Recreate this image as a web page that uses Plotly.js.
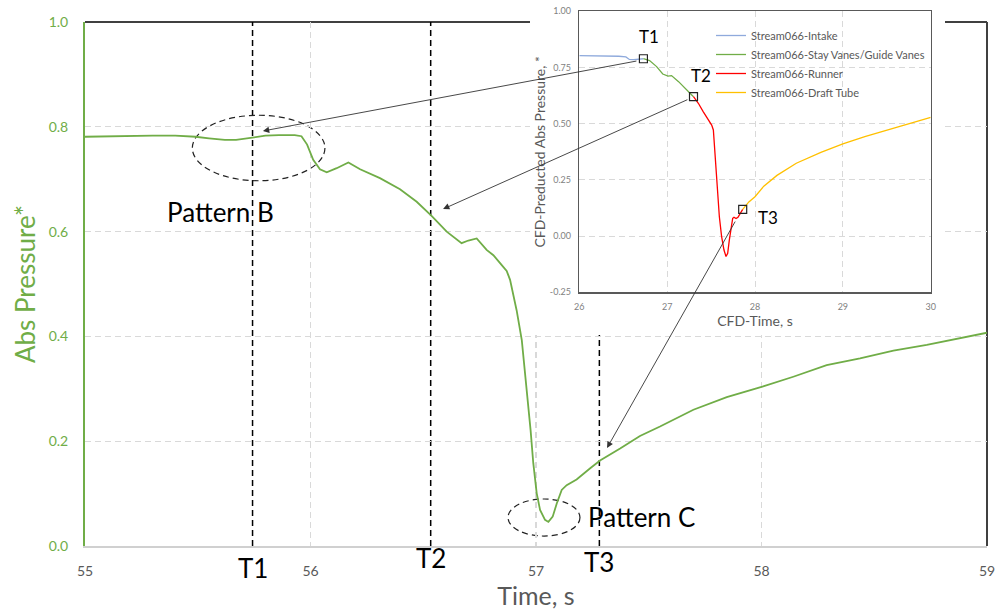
<!DOCTYPE html>
<html><head><meta charset="utf-8">
<script src="https://cdn.plot.ly/plotly-3.0.1.min.js"></script>
<style>html,body{margin:0;padding:0;background:#fff}#chart{width:1004px;height:615px}</style>
</head><body><div id="chart"></div>
<script>
// ---- main measured series ----
const mainTime = [55.00,55.10,55.20,55.30,55.40,55.49,55.55,55.62,55.67,55.74,55.80,55.86,55.93,55.96,55.985,56.012,56.042,56.072,56.116,56.168,56.220,56.308,56.397,56.471,56.537,56.604,56.670,56.700,56.737,56.781,56.811,56.850,56.870,56.885,56.914,56.937,56.951,56.966,56.976,56.988,57.003,57.018,57.040,57.055,57.074,57.092,57.114,57.136,57.180,57.239,57.284,57.373,57.461,57.550,57.698,57.846,58.004,58.141,58.289,58.437,58.585,58.733,58.880,59.000];
const mainPressure = [0.781,0.782,0.782,0.783,0.783,0.781,0.778,0.775,0.775,0.779,0.783,0.784,0.784,0.782,0.766,0.737,0.719,0.713,0.721,0.732,0.719,0.702,0.681,0.657,0.630,0.600,0.578,0.583,0.587,0.565,0.555,0.535,0.525,0.508,0.450,0.393,0.336,0.272,0.221,0.158,0.101,0.069,0.050,0.046,0.056,0.081,0.107,0.116,0.127,0.148,0.163,0.186,0.210,0.228,0.260,0.284,0.304,0.323,0.345,0.358,0.373,0.384,0.396,0.407];

// ---- inset CFD series ----
const intakeTime = [26.00,26.25,26.45,26.53,26.57,26.62,26.68,26.73];
const intakeValue = [0.803,0.802,0.800,0.797,0.786,0.785,0.787,0.789];
const vanesTime = [26.73,26.80,26.88,26.95,27.01,27.05,27.13,27.22,27.30];
const vanesValue = [0.789,0.781,0.754,0.721,0.712,0.714,0.687,0.653,0.620];
const runnerTime = [27.30,27.355,27.41,27.47,27.507,27.526,27.537,27.552,27.571,27.594,27.62,27.647,27.67,27.689,27.708,27.731,27.746,27.761,27.784,27.806,27.837,27.86];
const runnerValue = [0.620,0.591,0.554,0.517,0.494,0.472,0.413,0.309,0.190,0.087,-0.002,-0.062,-0.091,-0.077,-0.017,0.057,0.079,0.084,0.078,0.084,0.101,0.119];
const draftTime = [27.86,27.93,28.00,28.10,28.25,28.47,28.75,29.00,29.25,29.50,29.75,30.00];
const draftValue = [0.119,0.152,0.175,0.222,0.270,0.324,0.372,0.410,0.443,0.472,0.500,0.528];
const seriesNames = ['Stream066-Intake','Stream066-Stay Vanes/Guide Vanes','Stream066-Runner','Stream066-Draft Tube'];

// ---- events ----
const eventLabels = ['T1','T2','T3'];
const eventTimes = [55.743, 56.533, 57.281];
const cfdEventTimes = [26.73, 27.30, 27.86];
const cfdEventValues = [0.789, 0.620, 0.119];

// ---- tick labels ----
const mainXTicks = [55,56,57,58,59];
const mainYTicks = [0,0.2,0.4,0.6,0.8,1.0];
const insetXTicks = [26,27,28,29,30];
const insetYTicks = [-0.25,0,0.25,0.5,0.75,1.0];
const insetYTickText = ['-0.25','0.00','0.25','0.50','0.75','1.00'];

const GREEN = '#70ad47';
const FONT = 'Lato, "Open Sans", sans-serif';

const traces = [
  {x: mainTime, y: mainPressure, xaxis:'x', yaxis:'y', mode:'lines', line:{color:GREEN, width:1.8}, showlegend:false, hoverinfo:'skip'},
  {x:[null], y:[null], xaxis:'x2', yaxis:'y2', mode:'lines', showlegend:false, hoverinfo:'skip'},
  {x: intakeTime, y: intakeValue, xaxis:'x3', yaxis:'y3', mode:'lines', name: seriesNames[0], line:{color:'#8faadc', width:1.3}},
  {x: vanesTime, y: vanesValue, xaxis:'x3', yaxis:'y3', mode:'lines', name: seriesNames[1], line:{color:GREEN, width:1.3}},
  {x: runnerTime, y: runnerValue, xaxis:'x3', yaxis:'y3', mode:'lines', name: seriesNames[2], line:{color:'#ff0000', width:1.3}},
  {x: draftTime, y: draftValue, xaxis:'x3', yaxis:'y3', mode:'lines', name: seriesNames[3], line:{color:'#ffc000', width:1.3}},
  {x: cfdEventTimes, y: cfdEventValues, xaxis:'x3', yaxis:'y3', mode:'markers', showlegend:false, hoverinfo:'skip',
   marker:{symbol:'square-open', size:8, color:'#222', line:{width:1.2, color:'#222'}}}
];

const H = 546; // paper height in px (after margins)
const W = 902;
const px2x = p => (p - 85) / W;
const py2y = p => (H - p) / H;

const shapes = [];
// event lines
eventTimes.forEach(t => shapes.push({type:'line', xref:'x', yref:'y', x0:t, x1:t, y0:0, y1:1, layer:'below',
  line:{color:'#000', width:1.5, dash:'6px,4px'}}));
// ellipses
shapes.push({type:'circle', xref:'x', yref:'y', x0:55.476, x1:56.064, y0:0.697, y1:0.822, layer:'below', line:{color:'#222', width:1.2, dash:'6px,4px'}});
shapes.push({type:'circle', xref:'x', yref:'y', x0:56.876, x1:57.195, y0:0.019, y1:0.0897, layer:'below', line:{color:'#222', width:1.2, dash:'6px,4px'}});
// main top / right frame
shapes.push({type:'line', xref:'paper', yref:'paper', x0:0, x1:1, y0:py2y(22), y1:py2y(22), layer:'below', line:{color:'#404040', width:2}});
shapes.push({type:'line', xref:'paper', yref:'paper', x0:1, x1:1, y0:0, y1:py2y(22), layer:'below', line:{color:'#404040', width:2}});

const annotations = [];
const evLabelPy = [568, 558, 562];
eventLabels.forEach((l,i) => annotations.push({xref:'x', yref:'paper', x:eventTimes[i], y:py2y(evLabelPy[i]), yanchor:'middle', text:l, showarrow:false,
  font:{size:26, color:'#000', family:FONT}}));
annotations.push({xref:'x', yref:'y', x:55.599, y:0.637, text:'Pattern B', showarrow:false, font:{size:26, color:'#000', family:FONT}});
annotations.push({xref:'x', yref:'y', x:57.468, y:0.056, text:'Pattern C', showarrow:false, font:{size:26, color:'#000', family:FONT}});
// inset labels
const insetLabelPos = [[26.793,0.887],[27.385,0.714],[28.148,0.082]];
eventLabels.forEach((l,i) => annotations.push({xref:'x3', yref:'y3', x:insetLabelPos[i][0], y:insetLabelPos[i][1], text:l, showarrow:false,
  font:{size:17, color:'#000', family:FONT}}));
// arrows
const arrows = [[55.789,0.792,57.452,0.926],[56.588,0.643,57.678,0.853],[57.315,0.187,57.887,0.622]];
arrows.forEach(a => annotations.push({xref:'x', yref:'y', axref:'x', ayref:'y', x:a[0], y:a[1], ax:a[2], ay:a[3], text:'',
  showarrow:true, arrowhead:2, arrowsize:1.4, arrowwidth:0.9, arrowcolor:'#333', standoff:0, startstandoff:0}));

const gridStyle = {showgrid:true, gridcolor:'#d9d9d9', gridwidth:1.2, griddash:'6px,4px'};

const layout = {
  width:1004, height:615,
  margin:{l:85, r:17, t:0, b:69},
  paper_bgcolor:'#ffffff', plot_bgcolor:'#ffffff',
  font:{family:FONT},
  showlegend:true,
  legend:{x:px2x(711), y:py2y(21), xanchor:'left', yanchor:'top', bgcolor:'rgba(0,0,0,0)', font:{size:11, color:'#595959', family:FONT}, tracegroupgap:0},
  xaxis:Object.assign({domain:[0,1], anchor:'y', range:[55,59], tickvals:mainXTicks, ticks:'', showline:true, linecolor:'#d0d0d0', linewidth:1.5,
    zeroline:false, tickfont:{size:14, color:'#595959'}, ticklabelstandoff:12,
    title:{text:'Time, s', font:{size:25, color:'#595959'}, standoff:9}}, gridStyle),
  yaxis:Object.assign({domain:[0, 524/546], anchor:'x', range:[0,1], tickvals:mainYTicks, tickformat:'.1f', ticks:'', showline:true, linecolor:GREEN, linewidth:2,
    zeroline:false, tickfont:{size:14, color:GREEN}, ticklabelstandoff:12,
    title:{text:'Abs Pressure*', font:{size:26, color:GREEN}, standoff:6}}, gridStyle),
  xaxis2:{domain:[px2x(530), px2x(945)], anchor:'y2', range:[0,1], visible:false, fixedrange:true},
  yaxis2:{domain:[py2y(335), 1], anchor:'x2', range:[0,1], visible:false, fixedrange:true},
  xaxis3:Object.assign({domain:[px2x(579.3), px2x(930.7)], anchor:'y3', range:[26,30], tickvals:insetXTicks, ticks:'', showline:true, mirror:true,
    linecolor:'#595959', linewidth:1.5, zeroline:false, tickfont:{size:9, color:'#7f7f7f'}, ticklabelstandoff:5,
    title:{text:'CFD-Time, s', font:{size:14, color:'#595959'}, standoff:5}}, gridStyle, {gridwidth:1}),
  yaxis3:Object.assign({domain:[py2y(292.3), py2y(11.3)], anchor:'x3', range:[-0.25,1], tickvals:insetYTicks, ticktext:insetYTickText, ticks:'', showline:true, mirror:true,
    linecolor:'#595959', linewidth:1.5, zeroline:false, tickfont:{size:9, color:'#7f7f7f'}, ticklabelstandoff:5,
    title:{text:'CFD-Preducted Abs Pressure, *', font:{size:14, color:'#595959'}, standoff:1}}, gridStyle, {gridwidth:1}),
  shapes: shapes,
  annotations: annotations
};

Plotly.newPlot('chart', traces, layout, {staticPlot:true, displayModeBar:false});
</script>
</body></html>
